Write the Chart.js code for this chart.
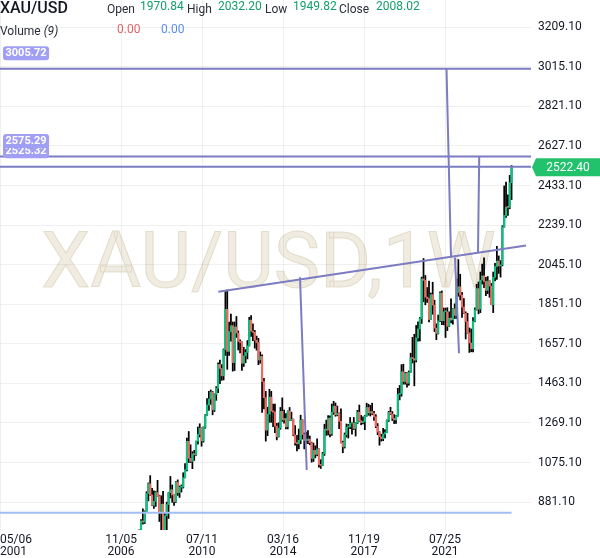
<!DOCTYPE html>
<html><head><meta charset="utf-8">
<script src="https://cdn.jsdelivr.net/npm/chart.js@4.4.1/dist/chart.umd.min.js"></script>
<style>
html,body{margin:0;padding:0;background:#fff;}
#wrap{position:relative;width:600px;height:558px;overflow:hidden;font-family:Roboto,"Noto Sans",sans-serif;}
canvas{position:absolute;left:0;top:0;}
.t{position:absolute;white-space:nowrap;font-size:12px;line-height:12px;color:#2a2e39;}
.g{color:#12a06a;}
</style></head><body>
<div id="wrap"><canvas id="c" width="600" height="558"></canvas>
<div class="t" style="left:0;top:0;font-size:16px;line-height:16px;font-weight:500;color:#131722;">XAU/USD</div>
<div class="t" style="left:107px;top:3px;">Open</div>
<div class="t g" style="left:140px;top:0px;">1970.84</div>
<div class="t" style="left:187px;top:3px;">High</div>
<div class="t g" style="left:218px;top:0px;">2032.20</div>
<div class="t" style="left:265px;top:3px;">Low</div>
<div class="t g" style="left:293px;top:0px;">1949.82</div>
<div class="t" style="left:339px;top:3px;">Close</div>
<div class="t g" style="left:376px;top:0px;">2008.02</div>
<div class="t" style="left:0;top:25px;">Volume <i>(9)</i></div>
<div class="t" style="left:117px;top:23px;color:#e06666;">0.00</div>
<div class="t" style="left:161px;top:23px;color:#5b8dea;">0.00</div>
</div>
<script>
// monthly candles starting Sep 2007
const firstMonth = [2007, 9];
const open = [
 672,743,789,783,
 834,923,971,916,865,885,928,912,833,871,718,814,
 869,927,942,916,883,979,927,954,955,1001,1040,1179,
 1096,1081,1118,1113,1180,1213,1244,1181,1248,1307,1357,1386,
 1421,1333,1409,1439,1556,1536,1500,1628,1826,1620,1717,1746,
 1565,1740,1710,1669,1664,1562,1598,1615,1648,1773,1719,1713,
 1675,1663,1578,1595,1472,1393,1234,1312,1396,1327,1323,1253,
 1202,1244,1326,1284,1291,1250,1327,1282,1287,1210,1171,1167,
 1184,1283,1212,1183,1183,1190,1172,1095,1135,1115,1142,1065,
 1061,1118,1238,1234,1293,1215,1322,1351,1309,1316,1277,1173,
 1152,1211,1249,1249,1268,1269,1242,1269,1322,1280,1271,1275,
 1303,1345,1318,1325,1316,1299,1253,1224,1201,1192,1215,1222,
 1282,1321,1313,1292,1284,1305,1409,1413,1520,1472,1513,1464,
 1517,1589,1585,1577,1686,1730,1781,1975,1968,1886,1879,1776,
 1898,1847,1734,1708,1769,1906,1770,1814,1814,1743,1783,1774,
 1829,1796,1909,1937,1896,1837,1807,1766,1711,1661,1633,1768,
 1824,1928,1827,1969,1990,1963,1919,1965,1940,1849,1983,2036,
 2063,2039,2044,2230,2286,2327,2326,2447];
const high = [
 745,795,848,838,
 932,975,1011,948,936,933,988,915,912,934,830,881,
 928,1007,965,917,982,990,960,965,1025,1070,1195,1227,
 1162,1128,1135,1180,1249,1265,1245,1250,1310,1388,1424,1431,
 1424,1412,1447,1564,1577,1555,1632,1913,1921,1764,1803,1764,
 1764,1791,1720,1677,1667,1640,1629,1673,1787,1796,1755,1723,
 1695,1684,1617,1603,1488,1424,1346,1434,1424,1361,1361,1267,
 1270,1345,1392,1332,1315,1328,1345,1322,1288,1256,1208,1239,
 1307,1285,1220,1224,1232,1205,1175,1170,1157,1191,1142,1089,
 1125,1263,1283,1305,1304,1362,1375,1367,1352,1318,1338,1180,
 1220,1264,1262,1296,1270,1296,1270,1331,1357,1306,1299,1306,
 1366,1361,1356,1366,1326,1310,1266,1226,1214,1243,1237,1284,
 1326,1346,1325,1310,1306,1439,1453,1555,1557,1517,1516,1524,
 1611,1689,1704,1747,1765,1786,1984,2075,1992,1933,1965,1906,
 1959,1871,1755,1798,1912,1916,1833,1832,1834,1814,1877,1830,
 1853,1974,2070,1998,1910,1879,1814,1807,1735,1730,1786,1833,
 1949,1960,2009,2048,2079,1983,1987,1966,1953,2009,2052,2135,
 2088,2065,2236,2431,2450,2388,2483,2531];
const low = [
 670,722,773,776,
 833,887,914,864,850,860,910,786,740,681,705,745,
 801,901,880,865,880,914,904,930,950,1000,1034,1075,
 1075,1045,1085,1110,1165,1200,1155,1175,1243,1306,1330,1360,
 1309,1325,1380,1417,1462,1478,1480,1600,1532,1600,1670,1523,
 1526,1688,1627,1613,1527,1546,1564,1583,1646,1693,1672,1636,
 1626,1555,1562,1321,1338,1180,1207,1272,1272,1251,1221,1186,
 1200,1238,1277,1268,1240,1240,1280,1281,1206,1160,1132,1142,
 1167,1190,1142,1170,1168,1162,1077,1080,1098,1108,1052,1046,
 1060,1110,1208,1210,1200,1208,1311,1302,1304,1241,1171,1123,
 1146,1200,1195,1241,1214,1237,1205,1266,1277,1260,1264,1236,
 1302,1307,1303,1310,1282,1246,1211,1160,1180,1182,1196,1221,
 1276,1310,1281,1266,1267,1302,1382,1400,1459,1459,1445,1454,
 1517,1563,1451,1568,1670,1671,1757,1863,1848,1860,1764,1776,
 1802,1717,1677,1705,1766,1751,1750,1688,1722,1741,1759,1753,
 1781,1781,1890,1872,1787,1805,1681,1709,1615,1618,1617,1765,
 1822,1804,1810,1950,1932,1893,1903,1885,1848,1810,1965,1973,
 2002,1984,2039,2229,2277,2287,2319,2364];
const close = [
 743,789,783,834,
 923,971,916,865,885,928,912,833,871,718,814,869,
 927,942,916,883,979,927,954,955,1001,1040,1179,1096,
 1081,1118,1113,1180,1213,1244,1181,1248,1307,1357,1386,1421,
 1333,1409,1439,1556,1536,1500,1628,1826,1620,1717,1746,1565,
 1740,1710,1669,1664,1562,1598,1615,1648,1773,1719,1713,1675,
 1663,1578,1595,1472,1393,1234,1312,1396,1327,1323,1253,1202,
 1244,1326,1284,1291,1250,1327,1282,1287,1210,1171,1167,1184,
 1283,1212,1183,1183,1190,1172,1095,1135,1115,1142,1065,1061,
 1118,1238,1234,1293,1215,1322,1351,1309,1316,1277,1173,1152,
 1211,1249,1249,1268,1269,1242,1269,1322,1280,1271,1275,1303,
 1345,1318,1325,1316,1299,1253,1224,1201,1192,1215,1222,1282,
 1321,1313,1292,1284,1305,1409,1413,1520,1472,1513,1464,1517,
 1589,1585,1577,1686,1730,1781,1975,1968,1886,1879,1776,1898,
 1847,1734,1708,1769,1906,1770,1814,1814,1743,1783,1774,1829,
 1796,1909,1937,1896,1837,1807,1766,1711,1661,1633,1768,1824,
 1928,1827,1969,1990,1963,1919,1965,1940,1849,1983,2036,2063,
 2039,2044,2230,2286,2327,2326,2447,2522.40];

// axis ticks (decimal-year positions of the time labels)
const xTickValues = [2001.342, 2006.844, 2010.523, 2014.203, 2017.882, 2021.562, 2025.30];
const xTickLabels = [['05/06','2001'],['11/05','2006'],['07/11','2010'],['03/16','2014'],['11/19','2017'],['07/25','2021'],''];
const yTickValues = [881.10,1075.10,1269.10,1463.10,1657.10,1851.10,2045.10,2239.10,2433.10,2627.10,2821.10,3015.10,3209.10];

// drawn horizontal levels and last price
const levelValues = [3005.72, 2575.29, 2525.32];
const supportLevel = 829.2;
const lastPrice = 2522.40;
// drawn trend / measurement lines: [[year, price],[year, price]]
const trendLine = [[2011.260,1912.6],[2025.240,2139.5]];
const measureA = [[2014.972,1983.2],[2015.277,1038.5]];
const measureB = [[2021.628,3005.72],[2021.833,2080.2]];
const measureC = [[2022.015,2080.2],[2022.197,1610.6]];
const measureD = [[2023.114,2575.29],[2023.059,2104.7]];

const X_MIN = 2001.342, X_MAX = 2025.467, Y_MIN = 744.3, Y_MAX = 3342.5;
const UP = '#0cc27f', DOWN = '#f26a62', LINE = '#7c7cc2', GRID = 'rgba(42,46,57,0.07)';

const monthX = i => firstMonth[0] + (firstMonth[1] - 1 + i) / 12;
const wickData = open.map((o, i) => ({x: monthX(i), y: [low[i], high[i]]}));
const bodyData = open.map((o, i) => ({x: monthX(i), y: [o, close[i]]}));
const lastX = monthX(open.length - 1);

function seg(pts, color, w, order) {
  return {type: 'line', data: pts.map(p => ({x: p[0], y: p[1]})), borderColor: color, borderWidth: w,
          pointRadius: 0, fill: false, tension: 0, order: order};
}
const datasets = [
  {type: 'bar', data: wickData, backgroundColor: '#000', barThickness: 1.1, grouped: false, order: 5},
  {type: 'bar', data: bodyData, backgroundColor: c => (c.raw && c.raw.y[1] >= c.raw.y[0]) ? UP : DOWN,
   barThickness: 1.5, grouped: false, minBarLength: 1, order: 4},
  seg([[X_MIN, supportLevel],[lastX, supportLevel]], '#a3bdf3', 2, 3),
  seg(trendLine, LINE, 2, 1),
  seg(measureA, LINE, 2, 1),
  seg(measureB, LINE, 2, 1),
  seg(measureC, LINE, 2, 1),
  seg(measureD, LINE, 2, 1)
];
levelValues.forEach(v => datasets.push(seg([[X_MIN, v],[X_MAX, v]], LINE, 2, 1)));

const watermark = {
  id: 'watermark',
  beforeDraw(chart) {
    const a = chart.chartArea, ctx = chart.ctx;
    ctx.save();
    ctx.font = '78px Roboto';
    ctx.textAlign = 'center';
    ctx.textBaseline = 'alphabetic';
    ctx.fillStyle = 'rgba(228,218,195,0.5)';
    ctx.fillText('XAU/USD,1W', (a.left + a.right) / 2 + 3, a.top + 287);
    ctx.strokeStyle = 'rgba(205,192,160,0.45)';
    ctx.lineWidth = 1;
    ctx.strokeText('XAU/USD,1W', (a.left + a.right) / 2 + 3, a.top + 287);
    ctx.restore();
  }
};
function rrect(ctx, x, y, w, h, r) {
  ctx.beginPath();
  ctx.moveTo(x + r, y); ctx.lineTo(x + w - r, y); ctx.quadraticCurveTo(x + w, y, x + w, y + r);
  ctx.lineTo(x + w, y + h - r); ctx.quadraticCurveTo(x + w, y + h, x + w - r, y + h);
  ctx.lineTo(x + r, y + h); ctx.quadraticCurveTo(x, y + h, x, y + h - r);
  ctx.lineTo(x, y + r); ctx.quadraticCurveTo(x, y, x + r, y); ctx.closePath();
}
const badges = {
  id: 'badges',
  afterDraw(chart) {
    const ctx = chart.ctx, ys = chart.scales.y;
    ctx.save();
    ctx.font = 'bold 11px Roboto';
    ctx.textBaseline = 'middle';
    ctx.textAlign = 'left';
    [...levelValues].sort((a, b) => a - b).forEach(v => {
      const py = ys.getPixelForValue(v) - 15.5;
      const t = v.toFixed(2), w = ctx.measureText(t).width + 5;
      ctx.fillStyle = '#a09ff3';
      rrect(ctx, 3, py - 7, w, 14, 3); ctx.fill();
      ctx.fillStyle = '#fff';
      ctx.fillText(t, 5.5, py + 0.5);
    });
    const cy = ys.getPixelForValue(lastPrice), r = chart.chartArea.right;
    ctx.fillStyle = '#22c16b';
    ctx.beginPath();
    ctx.moveTo(r + 1, cy); ctx.lineTo(r + 5, cy - 9); ctx.lineTo(600, cy - 9); ctx.lineTo(600, cy + 9);
    ctx.lineTo(r + 5, cy + 9); ctx.closePath(); ctx.fill();
    ctx.fillStyle = '#fff';
    ctx.font = '12px Roboto';
    ctx.textAlign = 'center';
    ctx.fillText(lastPrice.toFixed(2), (r + 5 + 600) / 2, cy + 0.5);
    ctx.restore();
  }
};

new Chart(document.getElementById('c'), {
  type: 'bar',
  data: {datasets},
  options: {
    responsive: false, animation: false, devicePixelRatio: 1,
    layout: {padding: 0},
    plugins: {legend: {display: false}, tooltip: {enabled: false}},
    scales: {
      x: {
        type: 'linear', min: X_MIN, max: X_MAX, offset: false,
        grid: {offset: false, drawTicks: false, color: c => (c.index === xTickValues.length - 1 ? 'rgba(0,0,0,0)' : GRID)},
        border: {display: false},
        afterBuildTicks: s => { s.ticks = xTickValues.map(v => ({value: v})); },
        afterFit: s => { s.height = 28; s.paddingLeft = 0; s.paddingRight = 0; },
        ticks: {
          autoSkip: false, maxRotation: 0, minRotation: 0, align: 'inner', padding: 4,
          color: '#131722', font: {family: 'Roboto', size: 12, lineHeight: 1.0},
          callback: (v, i) => xTickLabels[i]
        }
      },
      y: {
        type: 'linear', position: 'right', min: Y_MIN, max: Y_MAX,
        grid: {drawTicks: false, color: GRID},
        border: {display: false},
        afterBuildTicks: s => { s.ticks = yTickValues.map(v => ({value: v})); },
        afterFit: s => { s.width = 69; s.paddingTop = 0; s.paddingBottom = 0; },
        ticks: {padding: 7, color: '#131722', font: {family: 'Roboto', size: 12},
                callback: v => Number(v).toFixed(2)}
      }
    }
  },
  plugins: [watermark, badges]
});
</script>
</body></html>
